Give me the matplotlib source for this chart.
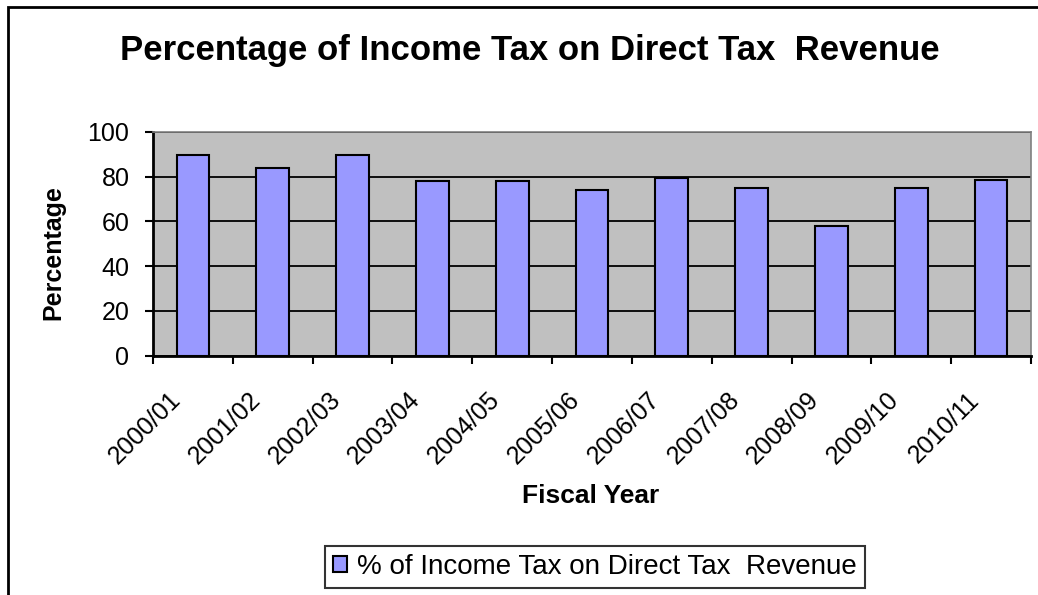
import matplotlib.pyplot as plt
import numpy as np
from matplotlib.patches import Rectangle
from matplotlib.transforms import ScaledTranslation

plt.rcParams['font.family'] = ['Liberation Sans', 'DejaVu Sans']

# data
fiscal_years = ["2000/01", "2001/02", "2002/03", "2003/04", "2004/05", "2005/06",
                "2006/07", "2007/08", "2008/09", "2009/10", "2010/11"]
income_tax_pct = [89.4, 83.9, 89.4, 77.8, 77.8, 74.1, 79.3, 75.0, 58.0, 75.0, 78.6]
y_ticks = [0, 20, 40, 60, 80, 100]

W, H = 1038, 595
fig = plt.figure(figsize=(W / 100, H / 100), dpi=100)

# chart border (right and bottom edges run off the picture)
fig.patches.append(Rectangle((8 / W, -0.05), 1.2, 1 - 7 / H + 0.05,
                             transform=fig.transFigure, fill=False,
                             edgecolor='black', linewidth=2))

ax = fig.add_axes([153 / W, 1 - 355.7 / H, (1031 - 153) / W, (355.7 - 131.7) / H])
ax.set_facecolor('#C0C0C0')

x = np.arange(len(fiscal_years))
ax.bar(x, income_tax_pct, width=0.41, color='#9999FF', edgecolor='black',
       linewidth=1.5, zorder=3, label='% of Income Tax on Direct Tax  Revenue')

ax.set_xlim(-0.5, len(fiscal_years) - 0.5)
ax.set_ylim(0, 100)
ax.set_yticks(y_ticks)
ax.yaxis.grid(True, color='black', linewidth=1.3, zorder=1)
ax.set_axisbelow(True)

# category labels at bar centres, tick marks between categories
ax.set_xticks(x)
ax.set_xticklabels(fiscal_years, rotation=45, ha='right', va='center',
                   rotation_mode='anchor', fontsize=18)
ax.tick_params(axis='x', which='major', length=0, pad=29)
ax.set_xticks(np.arange(-0.5, len(fiscal_years)), minor=True)
ax.tick_params(axis='x', which='minor', length=6, width=1.5, direction='out')
ax.tick_params(axis='y', length=6, width=1.5, direction='out', labelsize=18, pad=11)
shift = ScaledTranslation(-16 / 100, 0, fig.dpi_scale_trans)
for lab in ax.get_xticklabels():
    lab.set_transform(lab.get_transform() + shift)

for side in ['left', 'bottom']:
    ax.spines[side].set_color('black')
    ax.spines[side].set_linewidth(2)
for side in ['top', 'right']:
    ax.spines[side].set_color('#808080')
    ax.spines[side].set_linewidth(1.2)

fig.text(530 / W, 1 - 60 / H, "Percentage of Income Tax on Direct Tax  Revenue",
         ha='center', va='baseline', fontsize=25, fontweight='bold')
fig.text(53 / W, 1 - 253 / H, "Percentage", rotation=90, ha='center', va='center',
         fontsize=18, fontweight='bold')
fig.text(591 / W, 1 - 496 / H, "Fiscal Year", ha='center', va='center',
         fontsize=19, fontweight='bold')

leg = fig.legend(loc='center', bbox_to_anchor=(595 / W, 1 - 567 / H), fontsize=20,
                 frameon=True, fancybox=False, handlelength=0.5, handleheight=0.5,
                 handletextpad=0.35, borderpad=0.3, borderaxespad=0)
leg.get_frame().set_edgecolor('black')
leg.get_frame().set_linewidth(1.5)

fig.savefig('out.png', dpi=100)
